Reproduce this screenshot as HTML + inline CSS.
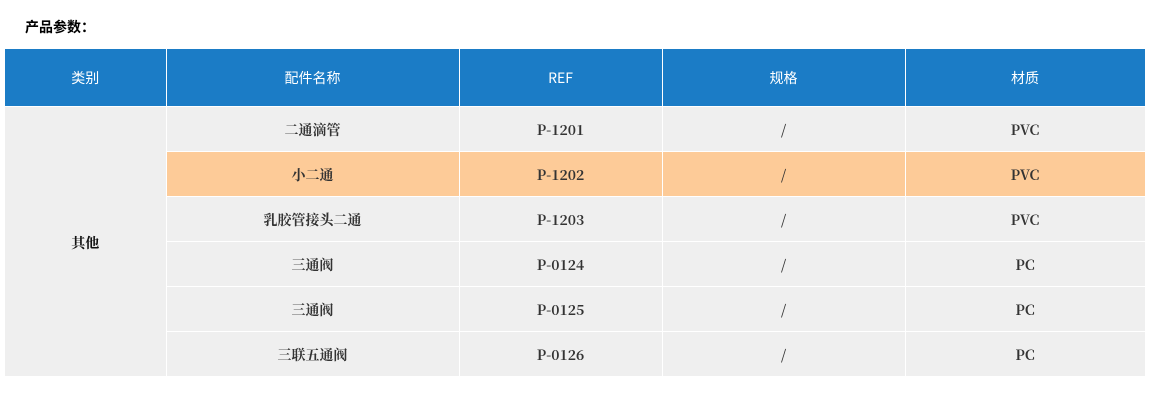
<!DOCTYPE html>
<html><head><meta charset="utf-8"><style>
body{margin:0;background:#fff;width:1150px;height:400px;overflow:hidden;font-family:"Liberation Serif","Noto Sans CJK SC",serif;}
.t{position:absolute;left:25px;top:17px;font-size:14px;font-weight:bold;color:#000;font-family:"Liberation Sans","Noto Sans CJK SC",sans-serif;}
table{position:absolute;left:5px;top:48px;border-collapse:collapse;width:1140px;table-layout:fixed;}
td,th{border:1px solid #fff;text-align:center;font-size:14px;padding:0;line-height:20px;}
th{background:#1b7cc6;color:#fff;font-weight:normal;height:57px;font-family:"Noto Sans CJK SC",sans-serif;}
td{background:#efefef;color:#333;font-weight:bold;height:42px;padding-top:2px;font-family:"Noto Serif CJK SC","Noto Sans CJK SC",serif;}
tr.h td{background:#fdcb98;}
td.c{color:#111;}
table tr td:first-child, table tr th:first-child{border-left:none}
</style></head><body>
<div class="t">产品参数：</div>
<table>
<colgroup><col style="width:161px"><col style="width:293px"><col style="width:203px"><col style="width:243px"><col style="width:240px"></colgroup>
<tr><th>类别</th><th>配件名称</th><th>REF</th><th>规格</th><th>材质</th></tr>
<tr><td rowspan="6" class="c" style="background:#efefef">其他</td><td>二通滴管</td><td>P-1201</td><td>/</td><td>PVC</td></tr>
<tr class="h"><td>小二通</td><td>P-1202</td><td>/</td><td>PVC</td></tr>
<tr><td>乳胶管接头二通</td><td>P-1203</td><td>/</td><td>PVC</td></tr>
<tr><td>三通阀</td><td>P-0124</td><td>/</td><td>PC</td></tr>
<tr><td>三通阀</td><td>P-0125</td><td>/</td><td>PC</td></tr>
<tr><td>三联五通阀</td><td>P-0126</td><td>/</td><td>PC</td></tr>
</table>
</body></html>
